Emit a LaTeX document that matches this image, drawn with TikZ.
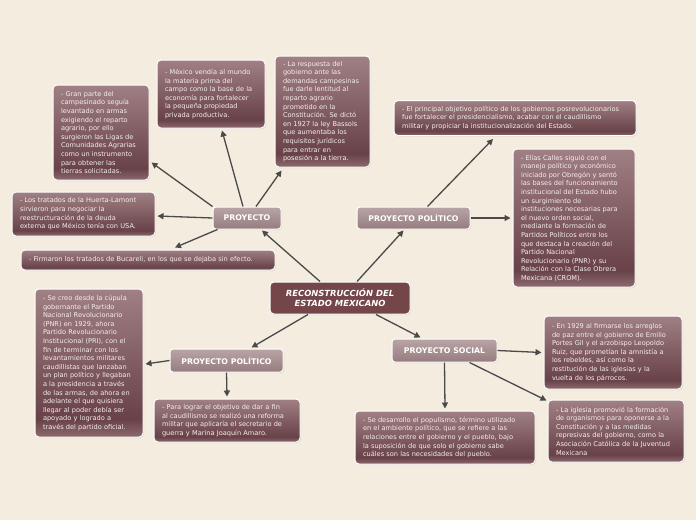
\documentclass[tikz,border=0pt]{standalone}
\usepackage{fontspec}
\setmainfont{DejaVu Sans}
\usetikzlibrary{arrows.meta,shadows}
\definecolor{bg}{RGB}{243,236,223}
\definecolor{boxtop}{RGB}{160,128,132}
\definecolor{boxdark}{RGB}{104,66,72}
\definecolor{boxlow}{RGB}{140,106,110}
\definecolor{maincol}{RGB}{116,70,74}
\definecolor{subtop}{RGB}{184,164,166}
\definecolor{subbot}{RGB}{150,124,127}
\definecolor{arrcol}{RGB}{74,74,74}
\definecolor{txt}{RGB}{246,238,238}
\pgfdeclareverticalshading{boxshade}{100bp}{color(0bp)=(boxlow); color(25bp)=(boxlow); color(31bp)=(boxdark); color(75bp)=(boxtop); color(100bp)=(boxtop)}
\tikzset{
  txtbox/.style={shading=boxshade, draw=white, line width=1pt, rounded corners=4pt,
    text=txt, font=\fontsize{6.6}{8.6}\selectfont, align=left, inner xsep=0pt, inner ysep=0pt,
    drop shadow={opacity=0.2, shadow xshift=1pt, shadow yshift=-1pt}},
  subnode/.style={top color=subtop, bottom color=subbot, draw=white, line width=1pt, rounded corners=3pt,
    text=white, font=\fontsize{7.8}{9}\selectfont\bfseries, inner sep=0pt,
    drop shadow={opacity=0.2, shadow xshift=1pt, shadow yshift=-1pt}},
  mainnode/.style={fill=maincol, draw=white, line width=1pt, rounded corners=4pt,
    text=white, font=\fontsize{8.4}{10}\selectfont\bfseries\itshape, align=center, inner sep=0pt,
    drop shadow={opacity=0.2, shadow xshift=1pt, shadow yshift=-1pt}},
  arr/.style={draw=arrcol, line width=1.3pt, -{Triangle[width=6pt,length=6pt]}}
}
\newcommand{\tbox}[6]{\node[txtbox, minimum width=#4pt, minimum height=#5pt, text width=#4pt-16pt] (#1) at (#2,#3) {#6};}
\begin{document}
\begin{tikzpicture}[x=1pt,y=-1pt]
\fill[bg] (0,0) rectangle (696,520);
\useasboundingbox (0,0) rectangle (696,520);

\node[mainnode, minimum width=140pt, minimum height=32pt] (main) at (340,298) {RECONSTRUCCIÓN DEL\\ESTADO MEXICANO};
\node[subnode, minimum width=68pt, minimum height=22pt] (proy) at (247,218) {PROYECTO};
\node[subnode, minimum width=113pt, minimum height=22pt] (ppt) at (413.5,218) {PROYECTO POLÍTICO};
\node[subnode, minimum width=113pt, minimum height=23pt] (ppb) at (226.5,360.5) {PROYECTO POLÍTICO};
\node[subnode, minimum width=105pt, minimum height=23pt] (ps) at (444.5,350.5) {PROYECTO SOCIAL};

\tbox{b1}{101}{132.5}{96}{95}{- Gran parte del\\campesinado seguía\\levantado en armas\\exigiendo el reparto\\agrario, por ello\\surgieron las Ligas de\\Comunidades Agrarias\\como un instrumento\\para obtener las\\tierras solicitadas.}
\tbox{b2}{211}{94}{108}{68}{- México vendía al mundo\\la materia prima del\\campo como la base de la\\economía para fortalecer\\la pequeña propiedad\\privada productiva.}
\tbox{b3}{322.5}{111.5}{95}{111}{- La respuesta del\\gobierno ante las\\demandas campesinas\\fue darle lentitud al\\reparto agrario\\prometido en la\\Constitución. Se dictó\\en 1927 la ley Bassols\\que aumentaba los\\requisitos jurídicos\\para entrar en\\posesión a la tierra.}
\tbox{b4}{83.5}{214}{143}{44}{- Los tratados de la Huerta-Lamont\\sirvieron para negociar la\\reestructuración de la deuda\\externa que México tenía con USA.}
\tbox{b5}{148}{260}{254}{20}{- Firmaron los tratados de Bucareli, en los que se dejaba sin efecto.}
\tbox{b6}{515}{118}{242}{35}{- El principal objetivo político de los gobiernos posrevolucionarios\\fue fortalecer el presidencialismo, acabar con el caudillismo\\militar y propiciar la institucionalización del Estado.}
\tbox{b7}{574}{218}{122}{138}{- Elías Calles siguió con el\\manejo político y económico\\iniciado por Obregón y sentó\\las bases del funcionamiento\\institucional del Estado hubo\\un surgimiento de\\instituciones necesarias para\\el nuevo orden social,\\mediante la formación de\\Partidos Políticos entre los\\que destaca la creación del\\Partido Nacional\\Revolucionario (PNR) y su\\Relación con la Clase Obrera\\Mexicana (CROM).}
\tbox{b8}{89}{363}{108}{148}{- Se creo desde la cúpula\\gobernante el Partido\\Nacional Revolucionario\\(PNR) en 1929, ahora\\Partido Revolucionario\\Institucional (PRI), con el\\fin de terminar con los\\levantamientos militares\\caudillistas que lanzaban\\un plan político y llegaban\\a la presidencia a través\\de las armas, de ahora en\\adelante el que quisiera\\llegar al poder debía ser\\apoyado y logrado a\\través del partido oficial.}
\tbox{b9}{227}{420.5}{146}{43}{- Para lograr el objetivo de dar a fin\\al caudillismo se realizó una reforma\\militar que aplicaría el secretario de\\guerra y Marina Joaquín Amaro.}
\tbox{b10}{445}{437.5}{180}{53}{- Se desarrollo el populismo, término utilizado\\en el ambiente político, que se refiere a las\\relaciones entre el gobierno y el pueblo, bajo\\la suposición de que solo el gobierno sabe\\cuáles son las necesidades del pueblo.}
\tbox{b11}{613}{352.5}{138}{73}{- En 1929 al firmarse los arreglos\\de paz entre el gobierno de Emilio\\Portes Gil y el arzobispo Leopoldo\\Ruiz, que prometían la amnistía a\\los rebeldes, así como la\\restitución de las iglesias y la\\vuelta de los párrocos.}
\tbox{b12}{616}{431}{136}{62}{- La iglesia promovió la formación\\de organismos para oponerse a la\\Constitución y a las medidas\\represivas del gobierno, como la\\Asociación Católica de la Juventud\\Mexicana}

\draw[arr] ([xshift=-20pt]main.north) -- ([xshift=15pt,yshift=-1pt]proy.south);
\draw[arr] ([xshift=17pt]main.north) -- ([xshift=-10pt,yshift=-1pt]ppt.south);
\draw[arr] ([xshift=-32pt]main.south) -- ([xshift=25pt,yshift=1pt]ppb.north);
\draw[arr] ([xshift=36pt]main.south) -- ([xshift=-24pt,yshift=1pt]ps.north);

\draw[arr] (proy.north west) -- ([xshift=2pt,yshift=18pt]b1.south east);
\draw[arr] ([xshift=-4pt]proy.north) -- ([xshift=11pt,yshift=-2pt]b2.south);
\draw[arr] ([xshift=9pt]proy.north) -- ([xshift=7pt,yshift=-3pt]b3.south west);
\draw[arr] (proy.west) -- ([xshift=2pt,yshift=-2pt]b4.east);
\draw[arr] ([xshift=5pt]proy.south west) -- ([xshift=27pt,yshift=2pt]b5.north);

\draw[arr] ([xshift=14pt]ppt.north) -- ([xshift=-22pt,yshift=-3pt]b6.south);
\draw[arr] (ppt.east) -- ([xshift=-2pt]b7.west);

\draw[arr] (ppb.west) -- ([xshift=2pt,yshift=-1pt]b8.east);
\draw[arr] (ppb.south) -- ([yshift=2pt]b9.north);

\draw[arr] (ps.south) -- ([yshift=2pt]b10.north);
\draw[arr] (ps.east) -- ([xshift=-2pt]b11.west);
\draw[arr] ([xshift=25pt]ps.south) -- ([xshift=-1pt,yshift=-1pt]b12.north west);
\end{tikzpicture}
\end{document}
